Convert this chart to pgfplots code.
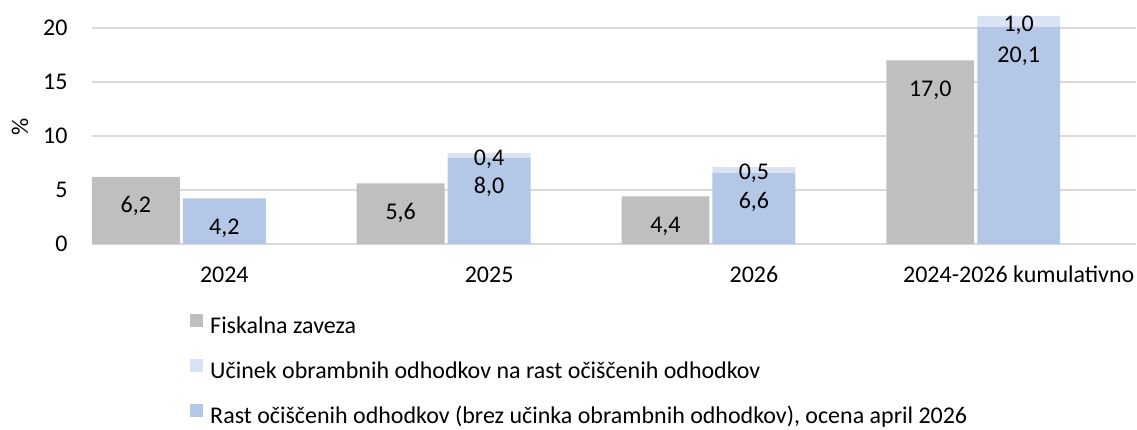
\documentclass[border=0pt]{standalone}
\usepackage{fontspec}
\setmainfont{Carlito}
\usepackage{pgfplots}
\usepackage{pgfplotstable}
\pgfplotsset{compat=1.18}
\definecolor{greyc}{HTML}{BFBFBF}
\definecolor{bluec}{HTML}{B4C7E7}
\definecolor{lightc}{HTML}{DAE3F3}
\definecolor{gridc}{HTML}{D9D9D9}
\pgfplotstableread{
x xg F R U FL RL UL
0 -0.334 6.2 4.2 0.0 6,2 4,2 {}
1 0.666 5.6 8.0 0.4 5,6 8,0 0,4
2 1.666 4.4 6.6 0.5 4,4 6,6 0,5
3 2.666 17.0 20.1 1.0 17,0 20,1 1,0
}\data
\pgfplotsset{
  common/.style={scale only axis, width=522.5pt, height=122pt,
    xmin=-0.5, xmax=3.4434, ymin=0, ymax=22.6, clip=false},
  sqA/.style={legend image code/.code={\fill[greyc, draw=none] (0pt,0pt) rectangle (6.5pt,6.5pt); \path[draw=none, fill=none] (0pt,0pt) rectangle (10pt,0.1pt);}},
  sqB/.style={legend image code/.code={\fill[lightc, draw=none] (0pt,0pt) rectangle (6.5pt,6.5pt); \path[draw=none, fill=none] (0pt,0pt) rectangle (10pt,0.1pt);}},
  sqC/.style={legend image code/.code={\fill[bluec, draw=none] (0pt,0pt) rectangle (6.5pt,6.5pt); \path[draw=none, fill=none] (0pt,0pt) rectangle (10pt,0.1pt);}},
}
\begin{document}
\fontsize{12}{14}\selectfont
\begin{tikzpicture}
\begin{axis}[common, name=A,
  axis line style={draw=none},
  tick style={draw=none},
  major tick length=0pt,
  ymajorgrids, grid style={gridc, line width=0.9pt},
  ytick={0,5,10,15,20},
  xtick={0,1,2,3},
  xticklabels={2024,2025,2026,2024-2026 kumulativno},
  yticklabel style={anchor=east, inner sep=0pt, xshift=-12pt},
  xticklabel style={anchor=base, inner sep=0pt, yshift=-19.5pt},
  /pgf/number format/assume math mode=true,
  legend style={at={(axis description cs:0.0938,-0.2869)}, anchor=north west,
    draw=none, fill=none, inner sep=0pt, row sep=10pt,
    nodes={inner sep=0pt, text height=9pt, text depth=3pt}},
  legend cell align=left,
]
\addplot[forget plot, ybar, bar width=0.332, bar shift=0, fill=greyc, draw=none,
  nodes near coords, point meta=explicit symbolic,
  every node near coord/.append style={anchor=base, inner sep=0pt, yshift=-18pt}]
  table[x=xg, y=F, meta=FL] {\data};
\addlegendimage{sqA}\addlegendentry{Fiskalna zaveza}
\addlegendimage{sqB}\addlegendentry{Učinek obrambnih odhodkov na rast očiščenih odhodkov}
\addlegendimage{sqC}\addlegendentry{Rast očiščenih odhodkov (brez učinka obrambnih odhodkov), ocena april 2026}
\path (rel axis cs:0,0.48) ++(-36pt,0pt) node[rotate=90, anchor=center] {\%};
\end{axis}
\begin{axis}[common, hide axis, ybar stacked, bar width=0.313]
\addplot[fill=bluec, draw=none,
  nodes near coords, point meta=explicit symbolic,
  visualization depends on={\thisrow{R}\as\rv},
  every node near coord/.append style={anchor=base, inner sep=0pt, yshift={2.7pt*\rv-18pt}}]
  table[x=x, y=R, meta=RL] {\data};
\addplot[fill=lightc, draw=none,
  nodes near coords, point meta=explicit symbolic,
  every node near coord/.append style={anchor=base, inner sep=0pt, yshift=-5pt}]
  table[x=x, y=U, meta=UL] {\data};
\end{axis}
\path ([shift={(-46pt,122pt)}]A.south west) rectangle ([shift={(0pt,-92pt)}]A.south east);
\end{tikzpicture}
\end{document}
